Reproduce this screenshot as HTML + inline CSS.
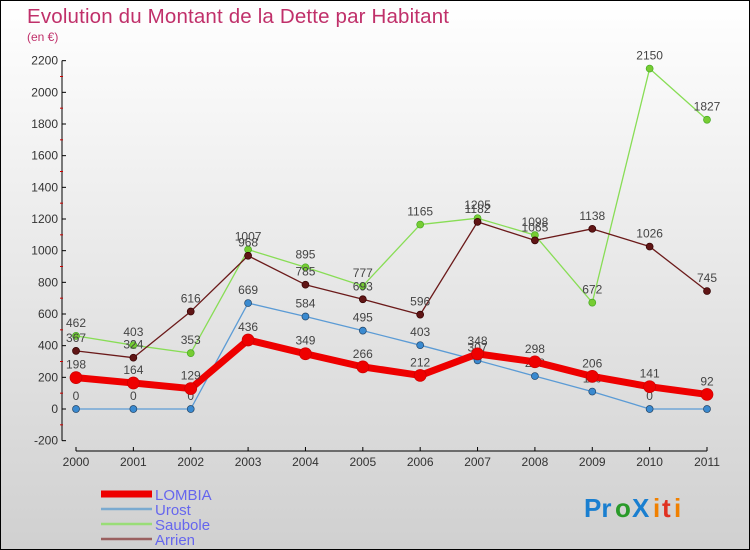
<!DOCTYPE html>
<html><head><meta charset="utf-8"><style>
body{margin:0}
#c{width:750px;height:550px;position:relative;box-sizing:border-box;border:1px solid #000;background:linear-gradient(#fff,#d0d0d0);font-family:"Liberation Sans",sans-serif;overflow:hidden}
text{font-family:"Liberation Sans",sans-serif}
</style></head><body>
<div id="c">
<svg id="s" width="750" height="550">
<text x="26" y="22" font-size="20.5" fill="#c0306a" textLength="422">Evolution du Montant de la Dette par Habitant</text>
<text x="26" y="40" font-size="12" fill="#c0306a">(en €)</text>
<g id="axes"></g><g id="series"></g><g id="legend"></g>
<g font-size="26" font-weight="bold">
<text x="583" y="516" fill="#1a7fd0">Pr</text><text x="614" y="516" fill="#2a9a2a">o</text><text x="631" y="516" fill="#1a7fd0">X</text><text x="652" y="516" fill="#f08000">i</text><text x="661" y="516" fill="#e03020">t</text><text x="673" y="516" fill="#f08000">i</text>
</g>
</svg></div>
<script>
const years=[2000,2001,2002,2003,2004,2005,2006,2007,2008,2009,2010,2011];
const lombia=[198,164,129,436,349,266,212,348,298,206,141,92];
const urost=[0,0,0,669,584,495,403,307,208,110,0,0];
const saubole=[462,403,353,1007,895,777,1165,1205,1098,672,2150,1827];
const arrien=[367,324,616,968,785,693,596,1182,1065,1138,1026,745];
const yTicks=[-200,0,200,400,600,800,1000,1200,1400,1600,1800,2000,2200];
const NS='http://www.w3.org/2000/svg';
const X=i=>75+i*(706-75)/11;
const Y=v=>408-v*(380/2400);
function mk(t,a,p){const e=document.createElementNS(NS,t);for(const k in a)e.setAttribute(k,a[k]);p.appendChild(e);return e;}
const ax=document.getElementById('axes');
const ya=mk('line',{x1:61,y1:Y(2200),x2:61,y2:Y(-200),stroke:'#000'},ax);


yTicks.forEach((v,i)=>{
 mk('line',{x1:61,y1:Y(v),x2:65,y2:Y(v),stroke:'#000'},ax);
 if(i<yTicks.length-1) mk('line',{x1:59,y1:Y(v+100),x2:62,y2:Y(v+100),stroke:'#c00'},ax);
 const t=mk('text',{x:57,y:Y(v)+4,'font-size':12,fill:'#333','text-anchor':'end'},ax);
 t.textContent=v;
 
 
});
const xa=mk('line',{x1:75,y1:450,x2:706,y2:450,stroke:'#000'},ax);


years.forEach((y,i)=>{
 mk('line',{x1:X(i),y1:446,x2:X(i),y2:450,stroke:'#000'},ax);
 const t=mk('text',{x:X(i),y:465,'font-size':12,fill:'#333','text-anchor':'middle'},ax);
 t.textContent=y;
 
 
});
const sg=document.getElementById('series');
function series(name,vals,col,w,dot,dcol,r){
 const g=mk('g',{},sg);
 
 
 const pl=mk('polyline',{points:vals.map((v,i)=>X(i)+','+Y(v)).join(' '),fill:'none',stroke:col,'stroke-width':w,'stroke-linejoin':'round'},g);
 
 
 vals.forEach((v,i)=>{
  const c=mk('circle',{cx:X(i),cy:Y(v),r:r,fill:dot,stroke:dcol,'stroke-width':0.7},g);
  
  
  const t=mk('text',{x:X(i),y:Y(v)-9,'font-size':12,fill:'#444','text-anchor':'middle'},g);
  t.textContent=v;
  
  
 });
}
series('urost',urost,'#5b9bd5',1.3,'#3a8ad0','#246',3.5);
series('saubole',saubole,'#88dd55',1.3,'#77cc33','#4a2',3.5);
series('arrien',arrien,'#6b1a1a',1.3,'#601515','#300',3.5);
series('lombia',lombia,'#ee0000',7,'#ee0000','#c00',6);
const lg=document.getElementById('legend');
const items=[['LOMBIA','#ee0000',7],['Urost','#7aaad0',2.5],['Saubole','#99dd77',2.5],['Arrien','#9a6060',2.5]];
items.forEach((it,i)=>{
 const yy=493+i*15;
 const l=mk('line',{x1:100,y1:yy,x2:151,y2:yy,stroke:it[1],'stroke-width':it[2]},lg);
 
 
 const t=mk('text',{x:154,y:yy+6,'font-size':15,fill:'#6666ee'},lg);
 t.textContent=it[0];
 
 
});
</script>
</body></html>
